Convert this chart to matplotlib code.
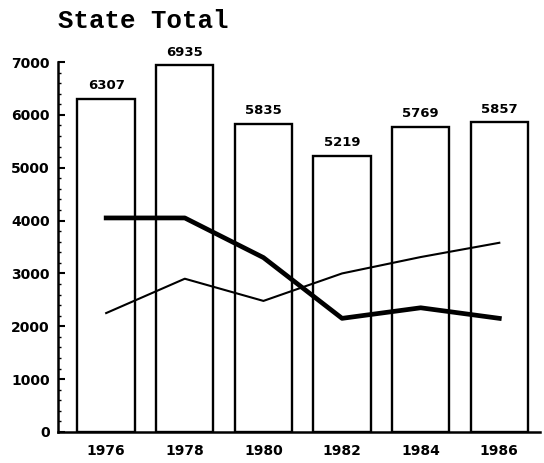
import matplotlib
matplotlib.use("Agg")
import matplotlib.pyplot as plt
from matplotlib.ticker import MultipleLocator

# chart data
years = ["1976", "1978", "1980", "1982", "1984", "1986"]
totals = [6307, 6935, 5835, 5219, 5769, 5857]
thick_series = [4050, 4050, 3300, 2150, 2350, 2150]
thin_series = [2250, 2900, 2480, 3000, 3310, 3580]

fig = plt.figure(figsize=(5.44, 4.63), dpi=100)
ax = fig.add_axes([0.107, 0.067, 0.886, 0.799])

x = range(len(years))
ax.bar(x, totals, width=0.73, color='white', edgecolor='black', linewidth=1.7, zorder=1)
for xi, v in zip(x, totals):
    ax.text(xi, v + 130, str(v), ha='center', va='bottom', fontsize=9.5,
            fontweight='bold', clip_on=False)

ax.plot(x, thick_series, color='black', linewidth=3.4, zorder=3)
ax.plot(x, thin_series, color='black', linewidth=1.5, zorder=3)

ax.set_xlim(-0.61, 5.52)
ax.set_ylim(0, 7000)
ax.yaxis.set_major_locator(MultipleLocator(1000))
ax.yaxis.set_minor_locator(MultipleLocator(200))
ax.set_xticks(list(x))
ax.set_xticklabels(years)

for side in ('top', 'right'):
    ax.spines[side].set_visible(False)
ax.spines['left'].set_linewidth(1.8)
ax.spines['bottom'].set_linewidth(1.8)

ax.tick_params(axis='y', which='major', direction='in', length=5, width=1.5,
               labelsize=10, pad=6)
ax.tick_params(axis='y', which='minor', direction='in', length=2.5, width=1)
ax.tick_params(axis='x', length=0, labelsize=10, pad=9)
for lbl in ax.get_xticklabels() + ax.get_yticklabels():
    lbl.set_fontweight('bold')

fig.text(0.107, 0.955, "State Total", fontsize=18.5, fontweight='bold',
         family='Liberation Mono', ha='left', va='center')

plt.savefig("out.png", dpi=100)
